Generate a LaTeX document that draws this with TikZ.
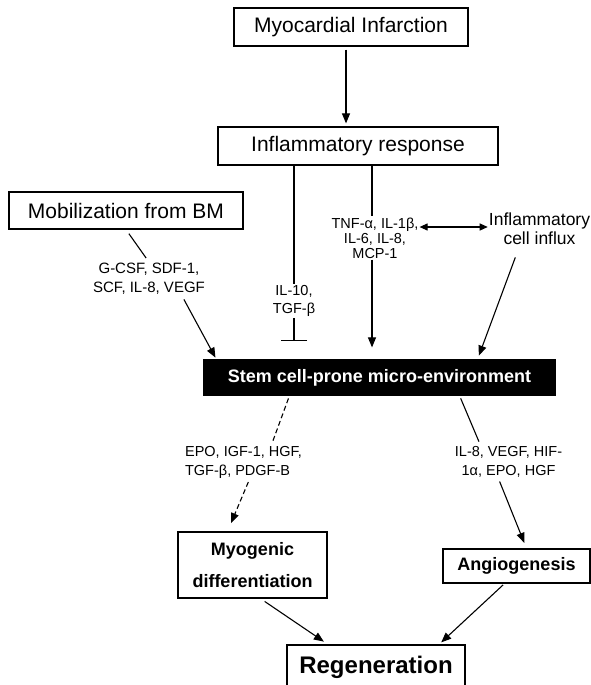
\documentclass[tikz,border=0pt]{standalone}
\usepackage{fontspec}
\setmainfont{Liberation Sans}
\usetikzlibrary{arrows.meta}

\begin{document}
\begin{tikzpicture}[x=1pt,y=-1pt,
		box/.style={draw, line width=1.2pt, inner sep=0pt, align=center},
		conn/.style={line width=1.1pt},
		arr/.style={conn, -{Triangle[length=10pt,width=8pt]}},
		lbl/.style={inner sep=1pt, align=center, font=\fontsize{14.5}{19}\selectfont}]
	\useasboundingbox (0,0) rectangle (591,685);
	\clip (0,0) rectangle (591,685);
	\node[box, minimum width=234pt, minimum height=38pt, font=\fontsize{21}{25}\selectfont] (mi) at (351,27) {Myocardial Infarction};
	\node[box, minimum width=280pt, minimum height=38pt, font=\fontsize{21}{25}\selectfont] (ir) at (358,146) {Inflammatory response};
	\node[box, minimum width=234pt, minimum height=37pt, font=\fontsize{21}{25}\selectfont] (mob) at (126,210.5) {Mobilization from BM};
	\node[lbl, font=\fontsize{15}{19}\selectfont] (gcsf) at (149,279) {G-CSF, SDF-1,\\SCF, IL-8, VEGF};
	\node[lbl, font=\fontsize{14.5}{18}\selectfont] (il10) at (294,301) {IL-10,\\TGF-β};
	\node[lbl, font=\fontsize{14.5}{15}\selectfont] (tnf) at (375,238) {TNF-α, IL-1β,\\IL-6, IL-8,\\MCP-1};
	\node[lbl, font=\fontsize{17.5}{19}\selectfont] (influx) at (539.5,229) {Inflammatory\\cell influx};
	\node[box, fill=black, text=white, minimum width=351pt, minimum height=35pt, font=\fontsize{18}{22}\selectfont\bfseries] (smc) at (379.5,377.5) {Stem cell-prone micro-environment};
	\node[lbl, align=left] (epo) at (243.5,462) {EPO, IGF-1, HGF,\\TGF-β, PDGF-B};
	\node[lbl] (hif) at (508.5,462) {IL-8, VEGF, HIF-\\1α, EPO, HGF};
	\node[box, minimum width=149pt, minimum height=66pt, font=\fontsize{18}{32}\selectfont\bfseries] (myo) at (252.5,565) {Myogenic\\differentiation};
	\node[box, minimum width=147pt, minimum height=34pt, font=\fontsize{18}{22}\selectfont\bfseries] (angio) at (516.5,566) {Angiogenesis};
	\node[box, minimum width=178pt, minimum height=45pt, font=\fontsize{24}{28}\selectfont\bfseries] (regen) at (376,667.5) {Regeneration};

	\draw[arr, shorten <=3pt, shorten >=3pt] ([xshift=-5pt]mi.south) -- ([xshift=-5pt]mi.south |- ir.north);
	\draw[conn] (ir.south -| il10.north) -- (il10.north);
	\draw[conn, -{Bar[width=26pt]}, shorten >=18pt] (il10.south) -- (il10.south |- smc.north);
	\draw[conn] ([xshift=-3pt]tnf.north |- ir.south) -- ([xshift=-3pt]tnf.north);
	\draw[arr, shorten >=12pt] ([xshift=-3pt]tnf.south) -- ([xshift=-3pt]tnf.south |- smc.north);
	\draw[conn, {Triangle[length=8pt,width=7pt]}-{Triangle[length=8pt,width=7pt]}] ([yshift=11pt]tnf.east) -- ([yshift=11pt]tnf.east -| influx.west);
	\draw[arr, shorten <=12pt, shorten >=4pt] ([xshift=-20pt]influx.south) -- ([xshift=98pt]smc.north);
	\draw[conn, shorten <=5pt, shorten >=5pt] (mob.south) -- (gcsf.north);
	\draw[arr, shorten <=4pt, shorten >=2pt] ([xshift=33pt]gcsf.south) -- ([xshift=13pt]smc.north west);
	\draw[conn, dash pattern=on 5pt off 3pt, shorten <=3pt, shorten >=3pt] ([xshift=-90pt]smc.south) -- ([xshift=28pt]epo.north);
	\draw[arr, dash pattern=on 5pt off 3pt, shorten <=3pt, shorten >=9pt] ([xshift=6pt]epo.south) -- ([xshift=-25pt]myo.north);
	\draw[conn, shorten <=3pt, shorten >=4pt] ([xshift=80pt]smc.south) -- ([xshift=-28pt]hif.north);
	\draw[arr, shorten <=3pt, shorten >=6pt] ([xshift=-10pt]hif.south) -- ([xshift=10pt]angio.north);
	\draw[arr, shorten <=5pt, shorten >=5pt] ([xshift=8pt]myo.south) -- ([xshift=-48pt]regen.north);
	\draw[arr, shorten <=2pt, shorten >=3pt] ([xshift=-12pt]angio.south) -- ([xshift=63pt]regen.north);
\end{tikzpicture}
\end{document}
